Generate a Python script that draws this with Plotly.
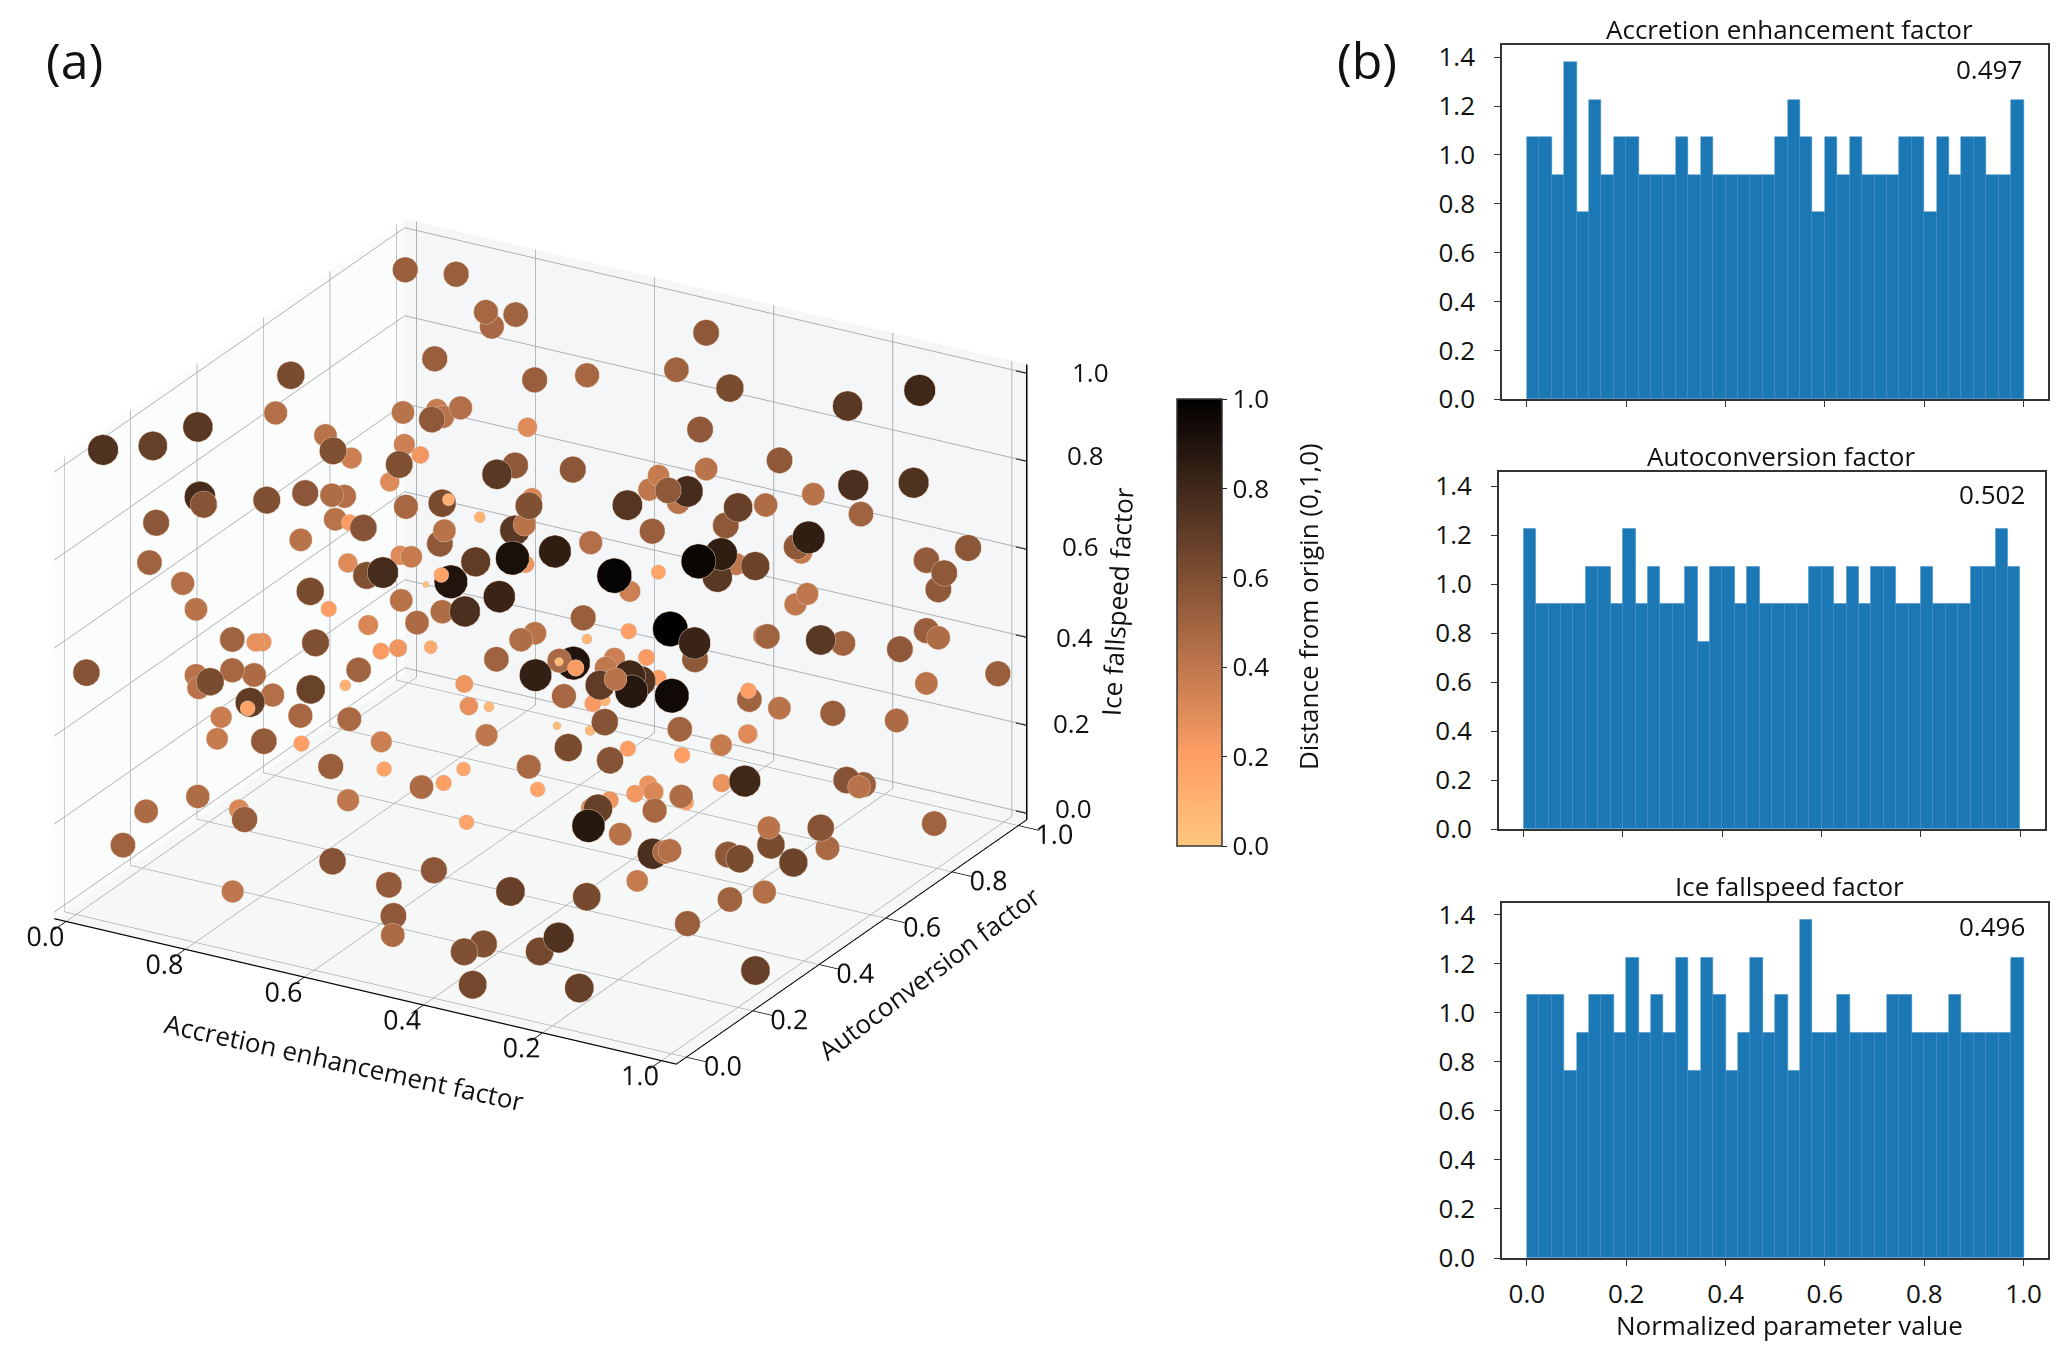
import math
import plotly.graph_objects as go

# Normalized parameter values of the ensemble, in percent of the axis range
accretion_pct=[0,8,13,14,18,15,7,29,30,7,16,13,24,0,8,20,7,0,0,0,18,1,6,2,28,3,38,50,46,4,13,13,15,10,11,23,38,43,23,47,29,34,12,0,10,18,27,7,22,25,44,0,12,20,0,6,32,47,52,71,23,72,35,39,42,0,27,0,25,66,33,58,15,31,55,44,43,10,0,0,29,11,15,11,30,46,0,0,10,12,18,1,51,56,50,56,76,29,0,74,36,14,25,54,18,26,2,22,28,28,18,3,3,22,1,25,41,30,35,67,31,16,26,52,39,26,39,7,0,25,5,21,36,0,38,43,46,50,69,74,19,47,59,60,70,81,66,80,50,45,59,81,92,54,64,50,96,92,42,41,58,57,68,47,68,60,76,76,65,56,99,73,66,94,87,90,89,87,45,42,95,91,82,55,80,65,67,83,91,71,37,72,62,96,78,87,87,89,99,87,40,48,51,84,49,91,90,42,100,36,33,74,85,69,83,67,69,62,57,82,43,51,69,100,61,92,87,98,52,54,52,67,60,67,50,77,49,86,59,95,94,91,91,86,81,88,97,65,67,69,68,86,83,82,99]
autoconv_pct=[99,100,100,100,100,81,52,86,100,96,87,87,64,60,84,100,24,8,23,75,45,81,88,100,47,89,64,37,67,30,15,34,42,59,61,58,42,35,96,52,80,74,100,24,60,50,38,55,70,66,76,22,76,65,32,71,30,8,27,4,94,15,50,40,30,36,22,76,53,9,51,13,61,47,54,55,61,29,54,56,20,72,70,87,100,44,3,36,29,32,8,35,54,45,60,50,2,33,81,25,6,34,72,50,20,5,40,28,32,68,92,77,37,17,66,47,50,91,92,28,21,64,70,43,34,64,69,24,21,37,40,13,53,14,9,17,13,18,7,21,13,11,11,15,14,0,1,8,100,100,91,87,89,91,97,100,80,69,100,99,80,76,44,97,100,100,63,100,79,73,43,86,100,100,100,100,100,6,86,100,17,31,46,100,61,100,100,30,23,59,100,79,96,52,91,92,100,100,100,100,100,76,68,16,82,4,1,100,0,91,100,70,50,88,79,39,58,83,100,100,89,91,37,22,85,67,81,60,79,77,75,62,76,54,71,19,67,0,58,88,40,61,46,72,51,42,42,57,57,55,47,53,48,37,27]
icefall_pct=[93,94,87,84,88,87,96,84,78,65,73,70,85,81,71,63,99,100,93,68,86,60,61,51,85,51,79,95,79,79,88,79,77,66,65,68,82,88,50,79,53,59,40,75,60,67,75,57,53,59,57,67,44,52,57,43,70,87,81,100,36,96,59,67,71,49,69,28,50,87,51,79,37,50,55,46,44,49,32,31,59,24,27,17,18,48,52,34,42,40,53,32,44,50,40,46,76,46,8,61,58,35,21,39,42,51,23,36,35,19,3,3,20,36,3,21,26,3,3,43,31,3,3,26,22,3,3,15,11,13,3,20,3,7,18,10,6,15,22,15,3,3,3,3,5,19,3,3,94,84,89,94,100,78,71,63,85,89,59,56,71,73,90,56,63,58,82,61,66,65,93,60,49,59,54,52,48,100,41,37,100,93,77,43,71,37,40,74,77,48,22,43,31,64,37,38,38,37,32,26,17,32,35,71,24,76,80,13,80,10,5,34,50,21,29,43,32,13,5,16,3,3,36,49,3,23,13,27,3,3,3,14,3,15,3,37,3,46,5,3,27,15,19,3,11,17,19,3,4,6,3,3,3,3,3]
distance=[.52,.52,.48,.48,.5,.52,.62,.52,.48,.38,.44,.42,.55,.44,.42,.3,.72,.75,.68,.42,.6,.36,.36,.24,.6,.3,.55,.72,.56,.78,.58,.6,.56,.45,.44,.48,.62,.12,.32,.6,.72,.42,.1,.56,.42,.22,.58,.42,.55,.42,.44,.5,.3,.38,.44,.3,.6,.78,.7,.92,.25,.85,.9,.18,.03,.42,.62,.2,.42,.82,.45,.76,.32,.46,.52,.45,.42,.5,.27,.27,.6,.22,.25,.14,.08,.5,.58,.42,.48,.46,.62,.42,.47,.06,.9,.22,.84,.5,.1,.7,.67,.44,.25,.48,.7,.18,.37,.48,.47,.27,.08,
.1,.38,.54,.2,.36,.4,.05,.08,.62,.52,.18,.16,.47,.46,.2,.18,.45,.46,.4,.32,.53,.18,.5,.58,.54,.55,.56,.68,.63,.4,.46,.6,.6,.64,.75,.64,.68,
.55,.5,.62,.72,.8,.55,.55,.42,.75,.76,.38,.4,.78,.55,.73,.42,.42,.45,.68,.5,.55,.52,.85,.55,.38,.56,.54,.55,.55,.98,.36,.17,.97,.85,.72,.4,.66,.4,.4,1.0,.82,.55,.2,.5,.4,.72,.5,.55,.52,.45,.52,.42,.22,.36,.4,.8,.75,.88,.42,.2,.95,.22,.1,.5,.2,.42,.52,
.58,.5,.38,.3,.46,.2,.2,.58,.8,.26,.58,.52,.42,.26,.32,.24,.45,.2,.48,.25,.68,.3,.88,.42,.5,.42,.58,.62,.47,.55,.62,.66,.76,.46,.44,.38,.44,.5,.52,.68]

# Axis ticks
tick_values=[0,.2,.4,.6,.8,1]
tick_labels=["0.0","0.2","0.4","0.6","0.8","1.0"]
accretion_tick_labels=["0.0","0.8","0.6","0.4","0.2","1.0"]
hist_yticks=[0,.2,.4,.6,.8,1,1.2,1.4]

# Histogram counts per bin, 40 bins on [0,1], 261 members
accretion_counts=[7,7,6,9,5,8,6,7,7,6,6,6,7,6,7,6,6,6,6,6,7,8,7,5,7,6,7,6,6,6,7,7,5,7,6,7,7,6,6,8]
autoconv_counts=[8,6,6,6,6,7,7,6,8,6,7,6,6,7,5,7,7,6,7,6,6,6,6,7,7,6,7,6,7,7,6,6,7,6,6,6,7,7,8,7]
icefall_counts=[7,7,7,5,6,7,7,6,8,6,7,6,8,5,8,7,5,6,8,6,7,5,9,6,6,7,6,6,6,7,7,6,6,6,7,6,6,6,6,8]
n_members=261
bin_width=.025

W,H=2067,1358
FONT="Open Sans"
px=lambda v:v/W
py=lambda v:1-v/H
xr=[-.02,1.025];yr=[-.03,1.025];zr=[-.015,1.02]
copper=[[0,"#ffc77f"],[.2,"#ff9f66"],[1,"#000000"]]

fig=go.Figure()
fig.add_trace(go.Scatter3d(x=[v/100 for v in accretion_pct],y=[v/100 for v in autoconv_pct],z=[v/100 for v in icefall_pct],mode="markers",showlegend=False,hoverinfo="skip",
  marker=dict(size=[41*math.sqrt(d) for d in distance],color=distance,cmin=0,cmax=1,colorscale=copper,opacity=1,showscale=True,line=dict(width=1,color="#d8b8a0"),
    colorbar=dict(x=px(1177),xanchor="left",y=py(399),yanchor="top",lenmode="pixels",len=447,thicknessmode="pixels",thickness=45,xpad=0,ypad=0,tickvals=tick_values,ticktext=tick_labels,
      ticks="outside",ticklen=5,tickcolor="#222",tickfont=dict(family=FONT,size=26,color="#111"),outlinecolor="#333",outlinewidth=1.5))))
# z axis on the right-hand edge of the box
zx=xr[1];zy=yr[1]
fig.add_trace(go.Scatter3d(x=[zx,zx],y=[zy,zy],z=zr,mode="lines",line=dict(color="black",width=3),showlegend=False,hoverinfo="skip"))
tx=[];ty=[];tz=[]
for t in tick_values:
    tx+=[zx,zx-.018,None];ty+=[zy,zy,None];tz+=[t,t,None]
fig.add_trace(go.Scatter3d(x=tx,y=ty,z=tz,mode="lines",line=dict(color="black",width=3),showlegend=False,hoverinfo="skip"))

panels=[("x2","y2",accretion_counts,1502,2048.4,45,399.3,1.45),("x3","y3",autoconv_counts,1498.8,2045,471.7,829,1.46),("x4","y4",icefall_counts,1502,2048.4,902.7,1258,1.45)]
layout_axes={}
for i,(xa,ya,counts,l,r,t,b,ymax) in enumerate(panels):
    fig.add_trace(go.Bar(x=[(k+.5)*bin_width for k in range(40)],y=[c/(n_members*bin_width) for c in counts],width=bin_width,xaxis=xa,yaxis=ya,marker=dict(color="#1c77b5",line=dict(color="#3a8bc4",width=.5)),showlegend=False,hoverinfo="skip"))
    n=xa[1:]
    last=i==2
    layout_axes["xaxis"+n]=dict(domain=[px(l),px(r)],range=[-.05,1.05],anchor=ya,tickvals=tick_values,ticktext=tick_labels if last else [""]*6,showticklabels=last,ticks="outside",ticklen=6,tickcolor="#333",showline=True,linecolor="#333",linewidth=1.5,mirror=True,showgrid=False,zeroline=False,tickfont=dict(family=FONT,size=26,color="#111"),ticklabelstandoff=6)
    layout_axes["yaxis"+n]=dict(domain=[py(b),py(t)],range=[0,ymax],anchor=xa,tickvals=hist_yticks,tickformat=".1f",ticks="outside",ticklen=6,tickcolor="#333",showline=True,linecolor="#333",linewidth=1.5,mirror=True,showgrid=False,zeroline=False,tickfont=dict(family=FONT,size=26,color="#111"),ticklabelstandoff=14)

def note(text,x,y,size=26,angle=0,xanchor="center"):
    return dict(xref="paper",yref="paper",x=px(x),y=py(y),text=text,showarrow=False,textangle=angle,xanchor=xanchor,yanchor="middle",font=dict(family=FONT,size=size,color="#111"))
annotations=[note("(a)",74,60,50),note("(b)",1367,60,50),
 note("Accretion enhancement factor",1789,29),note("Autoconversion factor",1781,456),note("Ice fallspeed factor",1789,886),
 note("0.497",2024,69,xanchor="right"),note("0.502",2027,494,xanchor="right"),note("0.496",2027,926,xanchor="right"),
 note("Normalized parameter value",1789,1325),
 note("Distance from origin (0,1,0)",1308,607,angle=-90),
 note("Accretion enhancement factor",344,1062,angle=12.4),note("Autoconversion factor",929,973,angle=-36.9),note("Ice fallspeed factor",1117,602,angle=-86.7)]
for s,lx,ly in zip(tick_labels,[1053,1051,1054,1059.5,1064.5,1070],[808,723,637,546,455,372]):
    annotations.append(note(s,lx,ly,xanchor="left"))

R=2.2
BOX=1.09
axis3d=dict(showspikes=False,gridcolor="#aeb1b4",gridwidth=2,tickvals=tick_values,tickfont=dict(size=18,family=FONT,color="#111"),title=dict(text=""),showbackground=True,showline=True,linecolor="black",linewidth=2.5,ticks="outside",ticklen=24,tickcolor="black",tickwidth=2,tickangle=0,zeroline=False)
fig.update_layout(width=W,height=H,margin=dict(l=0,r=0,t=0,b=0,autoexpand=False),paper_bgcolor="white",plot_bgcolor="white",bargap=0,annotations=annotations,
 scene=dict(domain=dict(x=[0,1081/W],y=[1-1283/H,1]),camera=dict(eye=dict(x=.4584*R,y=-.7917*R,z=.4038*R),up=dict(x=0,y=0,z=1),center=dict(x=0,y=0,z=0),projection=dict(type="orthographic")),
  aspectmode="manual",aspectratio=dict(x=1.028*BOX,y=1*BOX,z=.712*BOX),
  xaxis=dict(axis3d,range=xr,backgroundcolor="#fbfcfc",ticktext=accretion_tick_labels),
  yaxis=dict(axis3d,range=yr,backgroundcolor="#f4f6f8",ticktext=tick_labels),
  zaxis=dict(axis3d,range=zr,backgroundcolor="#f6f8f8",showline=False,ticks="",showticklabels=False)),
 **layout_axes)
fig.write_html("out.html",config=dict(displayModeBar=False),post_script="document.body.style.margin='0';")
